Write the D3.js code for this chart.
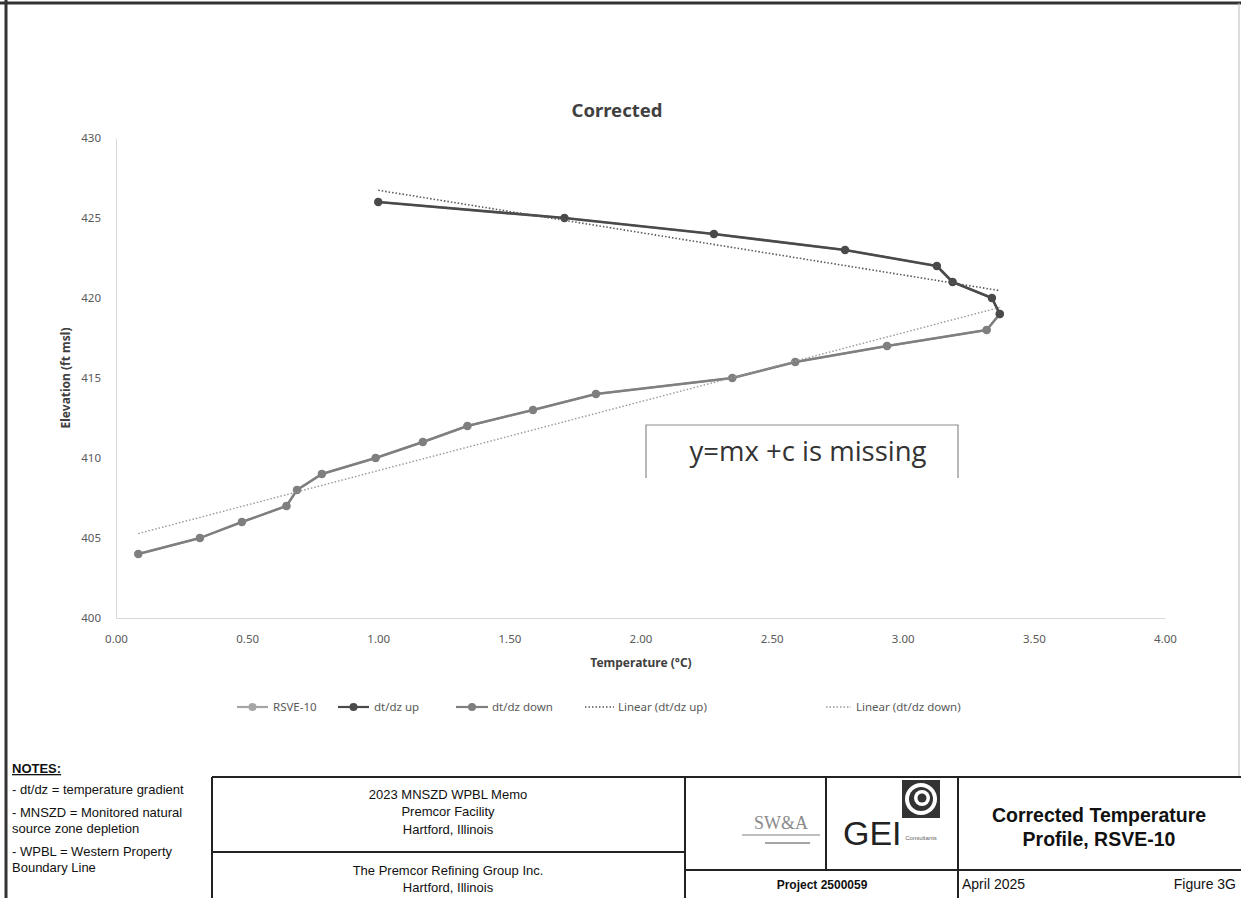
<!DOCTYPE html>
<html><head><meta charset="utf-8">
<script src="https://cdn.jsdelivr.net/npm/d3@7"></script>
<style>
html,body{margin:0;padding:0;background:#fff;}
svg{display:block;}
</style></head>
<body>
<svg id="c" width="1241" height="898"></svg>
<script>
// ---------------- data ----------------
const chartTitle = "Corrected";
const xTicks = [0, 0.5, 1, 1.5, 2, 2.5, 3, 3.5, 4];
const yTicks = [400, 405, 410, 415, 420, 425, 430];
const rsveElev = [426,425,424,423,422,421,420,419,418,417,416,415,414,413,412,411,410,409,408,407,406,405,404];
const rsveTemp = [1.00,1.71,2.28,2.78,3.13,3.19,3.34,3.37,3.32,2.94,2.59,2.35,1.83,1.59,1.34,1.17,0.99,0.785,0.69,0.65,0.48,0.32,0.085];
const upElev = [426,425,424,423,422,421,420,419];
const upTemp = [1.00,1.71,2.28,2.78,3.13,3.19,3.34,3.37];
const downElev = [419,418,417,416,415,414,413,412,411,410,409,408,407,406,405,404];
const downTemp = [3.37,3.32,2.94,2.59,2.35,1.83,1.59,1.34,1.17,0.99,0.785,0.69,0.65,0.48,0.32,0.085];
const legendNames = ["RSVE-10","dt/dz up","dt/dz down","Linear (dt/dz up)","Linear (dt/dz down)"];
const notes = ["- dt/dz = temperature gradient","- MNSZD = Monitored natural","source zone depletion","- WPBL = Western Property","Boundary Line"];

// ---------------- setup ----------------
const svg = d3.select("#c");
const chartFont = "'Noto Sans', 'Open Sans', sans-serif";
const blockFont = "'Liberation Sans', Arial, sans-serif";

const x = d3.scaleLinear().domain([0,4]).range([116,1165]);
const y = d3.scaleLinear().domain([400,430]).range([618,138]);

// page frame
svg.append("rect").attr("x",0).attr("y",0).attr("width",1241).attr("height",898).attr("fill","#fff");
svg.append("line").attr("x1",0).attr("x2",1241).attr("y1",3).attr("y2",3).attr("stroke","#333").attr("stroke-width",3);
svg.append("line").attr("x1",6).attr("x2",6).attr("y1",0).attr("y2",898).attr("stroke","#333").attr("stroke-width",3);
svg.append("line").attr("x1",1239).attr("x2",1239).attr("y1",3).attr("y2",776).attr("stroke","#bbb").attr("stroke-width",1);

// title
svg.append("text").attr("x",617).attr("y",117).attr("text-anchor","middle")
  .attr("font-family",chartFont).attr("font-weight","bold").attr("font-size",18.5).attr("fill","#404040").text(chartTitle);

// axes
const xAxis = d3.axisBottom(x).tickValues(xTicks).tickSize(0).tickPadding(17).tickFormat(d3.format(".2f"));
const gx = svg.append("g").attr("transform","translate(0,618)").call(xAxis);
gx.select(".domain").attr("stroke","#d9d9d9").attr("stroke-width",1);
gx.selectAll("text").attr("font-family",chartFont).attr("font-size",11.5).attr("fill","#595959");

const yAxis = d3.axisLeft(y).tickValues(yTicks).tickSize(0).tickPadding(15);
const gy = svg.append("g").attr("transform","translate(116,0)").call(yAxis);
gy.select(".domain").attr("stroke","#d9d9d9").attr("stroke-width",1);
gy.selectAll("text").attr("font-family",chartFont).attr("font-size",11.5).attr("fill","#595959");

svg.append("text").attr("x",641).attr("y",667).attr("text-anchor","middle")
  .attr("font-family",chartFont).attr("font-weight","bold").attr("font-size",12).attr("fill","#404040").text("Temperature (°C)");
svg.append("text").attr("transform","translate(70,378) rotate(-90)").attr("text-anchor","middle")
  .attr("font-family",chartFont).attr("font-weight","bold").attr("font-size",12).attr("fill","#404040").text("Elevation (ft msl)");

// series
const line = d3.line().x(d=>x(d[0])).y(d=>y(d[1]));
function pts(t,e){return t.map((v,i)=>[v,e[i]]);}
function series(data,color,width,r){
  svg.append("path").datum(data).attr("d",line).attr("fill","none").attr("stroke",color).attr("stroke-width",width).attr("stroke-linejoin","round");
  svg.append("g").selectAll("circle").data(data).join("circle")
    .attr("cx",d=>x(d[0])).attr("cy",d=>y(d[1])).attr("r",r).attr("fill",color);
}
series(pts(rsveTemp,rsveElev),"#a5a5a5",2.2,4);
series(pts(downTemp,downElev),"#7f7f7f",2.4,4.2);
series(pts(upTemp,upElev),"#4a4a4a",2.6,4.2);

// linear trendlines (least squares of elevation on temperature)
function trend(t,e){
  const mx=d3.mean(t), my=d3.mean(e);
  const m=d3.sum(t.map((v,i)=>(v-mx)*(e[i]-my)))/d3.sum(t.map(v=>(v-mx)*(v-mx)));
  const c=my-m*mx;
  const lo=d3.min(t), hi=d3.max(t);
  return [[lo,m*lo+c],[hi,m*hi+c]];
}
svg.append("path").datum(trend(upTemp,upElev)).attr("d",line).attr("fill","none")
  .attr("stroke","#595959").attr("stroke-width",1.6).attr("stroke-dasharray","1.5,2");
svg.append("path").datum(trend(downTemp,downElev)).attr("d",line).attr("fill","none")
  .attr("stroke","#999").attr("stroke-width",1.4).attr("stroke-dasharray","1.5,2");

// annotation box
const boxG = svg.append("g");
boxG.append("path").attr("d","M646,478 L646,425 L958,425 L958,478").attr("fill","none").attr("stroke","#8c8c8c").attr("stroke-width",1.2);
boxG.append("text").attr("x",808).attr("y",461).attr("text-anchor","middle")
  .attr("font-family","'Open Sans', 'Noto Sans', sans-serif").attr("font-size",27.5).attr("fill","#333").text("y=mx +c is missing");

// legend
const legY = 707;
const legItems = [
  {name:legendNames[0], x0:237, x1:268, tx:273, color:"#a5a5a5", marker:true, dash:null},
  {name:legendNames[1], x0:338, x1:369, tx:374, color:"#4a4a4a", marker:true, dash:null},
  {name:legendNames[2], x0:456, x1:488, tx:492, color:"#7f7f7f", marker:true, dash:null},
  {name:legendNames[3], x0:585, x1:614, tx:618, color:"#595959", marker:false, dash:"1.5,2"},
  {name:legendNames[4], x0:826, x1:851, tx:856, color:"#999", marker:false, dash:"1.5,2"}
];
const lg = svg.append("g");
legItems.forEach(it=>{
  lg.append("line").attr("x1",it.x0).attr("x2",it.x1).attr("y1",legY).attr("y2",legY)
    .attr("stroke",it.color).attr("stroke-width",it.marker?2.2:1.4).attr("stroke-dasharray",it.dash);
  if(it.marker) lg.append("circle").attr("cx",(it.x0+it.x1)/2).attr("cy",legY).attr("r",4).attr("fill",it.color);
  lg.append("text").attr("x",it.tx).attr("y",legY).attr("dy","0.35em")
    .attr("font-family",chartFont).attr("font-size",11.5).attr("fill","#595959").text(it.name);
});

// notes
const ng = svg.append("g").attr("font-family",blockFont).attr("fill","#111");
ng.append("text").attr("x",12).attr("y",773).attr("font-size",13).attr("font-weight","bold").attr("text-decoration","underline").text("NOTES:");
const noteY = [794,817,833,856,872];
notes.forEach((n,i)=>ng.append("text").attr("x",12).attr("y",noteY[i]).attr("font-size",13).text(n));

// title block
const tb = svg.append("g").attr("stroke","#222").attr("stroke-width",2);
[[212,777,1241,777],[212,777,212,898],[685,777,685,898],[826,777,826,870],[958,777,958,898],
 [212,852,685,852],[685,870,1241,870]].forEach(l=>{
  tb.append("line").attr("x1",l[0]).attr("y1",l[1]).attr("x2",l[2]).attr("y2",l[3]);
});
const tt = svg.append("g").attr("font-family",blockFont).attr("fill","#111").attr("text-anchor","middle");
[["2023 MNSZD WPBL Memo",799],["Premcor Facility",816],["Hartford, Illinois",834]].forEach(d=>
  tt.append("text").attr("x",448).attr("y",d[1]).attr("font-size",13).text(d[0]));
[["The Premcor Refining Group Inc.",875],["Hartford, Illinois",892]].forEach(d=>
  tt.append("text").attr("x",448).attr("y",d[1]).attr("font-size",13).text(d[0]));
tt.append("text").attr("x",822).attr("y",889).attr("font-size",12).attr("font-weight","bold").text("Project 2500059");
tt.append("text").attr("x",1099).attr("y",822).attr("font-size",19.5).attr("font-weight","bold").text("Corrected Temperature");
tt.append("text").attr("x",1099).attr("y",846).attr("font-size",19.5).attr("font-weight","bold").text("Profile, RSVE-10");
svg.append("text").attr("x",962).attr("y",889).attr("font-family",blockFont).attr("font-size",14).attr("fill","#111").text("April 2025");
svg.append("text").attr("x",1236).attr("y",889).attr("text-anchor","end").attr("font-family",blockFont).attr("font-size",14).attr("fill","#111").text("Figure 3G");

// logos
const sw = svg.append("g");
sw.append("text").attr("x",781).attr("y",829).attr("text-anchor","middle").attr("font-family","'Liberation Serif', serif")
  .attr("font-size",18).attr("fill","#8a8a8a").text("SW&A");
sw.append("line").attr("x1",742).attr("x2",820).attr("y1",835).attr("y2",835).attr("stroke","#aaa").attr("stroke-width",1.5);
sw.append("line").attr("x1",765).attr("x2",810).attr("y1",843).attr("y2",843).attr("stroke","#888").attr("stroke-width",1.5);
const gei = svg.append("g");
gei.append("text").attr("x",843).attr("y",845).attr("font-family",blockFont).attr("font-size",34).attr("fill","#222").text("GEI");
gei.append("rect").attr("x",902).attr("y",780).attr("width",38).attr("height",38).attr("fill","#333");
gei.append("circle").attr("cx",921).attr("cy",799).attr("r",16).attr("fill","#fff");
gei.append("circle").attr("cx",921).attr("cy",799).attr("r",12).attr("fill","#333");
gei.append("circle").attr("cx",922).attr("cy",798).attr("r",8).attr("fill","#fff");
gei.append("circle").attr("cx",922).attr("cy",798).attr("r",4.5).attr("fill","#333");
gei.append("text").attr("x",921).attr("y",840).attr("text-anchor","middle").attr("font-family",blockFont).attr("font-size",6).attr("fill","#666").text("Consultants");
</script>
</body></html>
